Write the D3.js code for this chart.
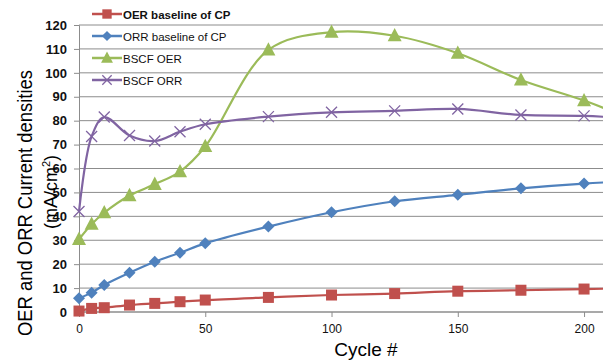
<!DOCTYPE html>
<html>
<head>
<meta charset="utf-8">
<script src="https://cdn.jsdelivr.net/npm/d3@7"></script>
<style>
  body { margin: 0; background: #fff; }
  svg { display: block; font-family: "Liberation Sans", Arial, sans-serif; }
</style>
</head>
<body>
<svg id="chart" width="603" height="360"></svg>
<script>
// cycles (last point sits past the visible edge, chart is cropped at the right)
const cycles = [0, 5, 10, 20, 30, 40, 50, 75, 100, 125, 150, 175, 200, 225];

const oerBaseline = [0.4, 1.5, 1.8, 2.9, 3.6, 4.3, 5.0, 6.1, 7.1, 7.7, 8.7, 9.1, 9.6, 10.0];
const orrBaseline = [5.7, 8.1, 11.3, 16.4, 21.0, 24.8, 28.7, 35.7, 41.7, 46.3, 49.0, 51.7, 53.7, 55.0];
const bscfOer = [30.4, 36.7, 41.5, 48.7, 53.4, 58.7, 69.2, 109.6, 117.0, 115.5, 108.2, 97.0, 88.4, 78.0];
const bscfOrr = [42.0, 73.4, 81.5, 73.8, 71.5, 75.4, 78.5, 81.7, 83.5, 84.1, 84.9, 82.4, 82.0, 80.5];

const yTicks = [0, 10, 20, 30, 40, 50, 60, 70, 80, 90, 100, 110, 120];
const xTicks = [0, 50, 100, 150, 200];

const seriesList = [
    { name: 'OER baseline of CP', values: oerBaseline, color: '#C0504D', marker: 'square', bold: true },
    { name: 'ORR baseline of CP', values: orrBaseline, color: '#4F81BD', marker: 'diamond' },
    { name: 'BSCF OER', values: bscfOer, color: '#9BBB59', marker: 'triangle' },
    { name: 'BSCF ORR', values: bscfOrr, color: '#8064A2', marker: 'cross' }
];

const svg = d3.select('#chart');
const margin = { top: 25, right: 0, bottom: 48, left: 79 };
const width = 603, height = 360;
const innerWidth = width - margin.left - margin.right;
const innerHeight = height - margin.top - margin.bottom;

const x = d3.scaleLinear().domain([0, 207.5]).range([0, innerWidth]);
const y = d3.scaleLinear().domain([0, 120]).range([innerHeight, 0]);

const g = svg.append('g').attr('transform', `translate(${margin.left},${margin.top})`);

g.append('defs').append('clipPath').attr('id', 'clip')
    .append('rect').attr('x', -10).attr('y', -10).attr('width', innerWidth + 10).attr('height', innerHeight + 20);

// gridlines
g.append('g')
    .selectAll('line')
    .data(yTicks)
    .join('line')
    .attr('x1', 0).attr('x2', innerWidth)
    .attr('y1', d => y(d)).attr('y2', d => y(d))
    .attr('stroke', '#8c8c8c')
    .attr('stroke-width', d => d === 0 ? 1.5 : 1);

// y axis
const yAxis = g.append('g')
    .call(d3.axisLeft(y).tickValues(yTicks).tickSize(5).tickPadding(7));
yAxis.select('.domain').attr('stroke', '#8c8c8c');
yAxis.selectAll('.tick line').attr('stroke', '#8c8c8c');
yAxis.selectAll('.tick text')
    .style('font-size', '13px')
    .style('font-weight', 'bold')
    .attr('fill', '#111');

// x axis
const xAxis = g.append('g')
    .attr('transform', `translate(0,${innerHeight})`)
    .call(d3.axisBottom(x).tickValues(xTicks).tickSize(5).tickPadding(7));
xAxis.select('.domain').remove();
xAxis.selectAll('.tick line').attr('stroke', '#8c8c8c');
xAxis.selectAll('.tick text')
    .style('font-size', '12px')
    .attr('fill', '#111');

// lines
const line = d3.line()
    .x((d, i) => x(cycles[i]))
    .y(d => y(d))
    .curve(d3.curveCatmullRom.alpha(0.5));

const plot = g.append('g').attr('clip-path', 'url(#clip)');

function drawMarker(sel, type, color, size) {
    if (type === 'square') {
        sel.append('rect').attr('x', -size).attr('y', -size)
            .attr('width', size * 2).attr('height', size * 2).attr('fill', color);
    } else if (type === 'diamond') {
        sel.append('path').attr('d', `M0,${-size}L${size},0L0,${size}L${-size},0Z`).attr('fill', color);
    } else if (type === 'triangle') {
        sel.append('path').attr('d', `M0,${-size * 1.1}L${size},${size * 0.8}L${-size},${size * 0.8}Z`).attr('fill', color);
    } else {
        sel.append('path').attr('d', `M${-size},${-size}L${size},${size}M${-size},${size}L${size},${-size}`)
            .attr('stroke', color).attr('stroke-width', 1.3).attr('fill', 'none');
    }
}

const markerSize = { square: 5.5, diamond: 6, triangle: 7, cross: 5.5 };

seriesList.forEach(s => {
    plot.append('path')
        .datum(s.values)
        .attr('fill', 'none')
        .attr('stroke', s.color)
        .attr('stroke-width', 2.2)
        .attr('d', line);

    s.values.forEach((v, i) => {
        const m = plot.append('g').attr('transform', `translate(${x(cycles[i])},${y(v)})`);
        drawMarker(m, s.marker, s.color, markerSize[s.marker]);
    });
});

// legend
const legend = svg.append('g').attr('transform', 'translate(92,14)');
seriesList.forEach((s, i) => {
    const row = legend.append('g').attr('transform', `translate(0,${i * 22})`);
    row.append('line').attr('x1', 0).attr('x2', 30).attr('y1', 0).attr('y2', 0)
        .attr('stroke', s.color).attr('stroke-width', 2.5);
    const m = row.append('g').attr('transform', 'translate(15,0)');
    drawMarker(m, s.marker, s.color, markerSize[s.marker] * 0.85);
    row.append('text')
        .attr('x', 31).attr('y', 4.5)
        .style('font-size', '11.5px')
        .style('font-weight', s.bold ? 'bold' : 'normal')
        .attr('fill', '#111')
        .text(s.name);
});

// axis titles
svg.append('text')
    .attr('transform', 'translate(32,203) rotate(-90)')
    .attr('text-anchor', 'middle')
    .attr('textLength', 266)
    .attr('lengthAdjust', 'spacingAndGlyphs')
    .style('font-size', '20px')
    .attr('fill', '#000')
    .text('OER and ORR Current densities');

const unit = svg.append('text')
    .attr('transform', 'translate(57,192) rotate(-90)')
    .attr('text-anchor', 'middle')
    .style('font-size', '18px')
    .attr('fill', '#000');
unit.append('tspan').text('(mA/cm');
unit.append('tspan').attr('dy', -7).style('font-size', '11px').text('2');
unit.append('tspan').attr('dy', 7).text(')');

svg.append('text')
    .attr('x', 366).attr('y', 356)
    .attr('text-anchor', 'middle')
    .style('font-size', '19px')
    .attr('fill', '#000')
    .text('Cycle #');
</script>
</body>
</html>
